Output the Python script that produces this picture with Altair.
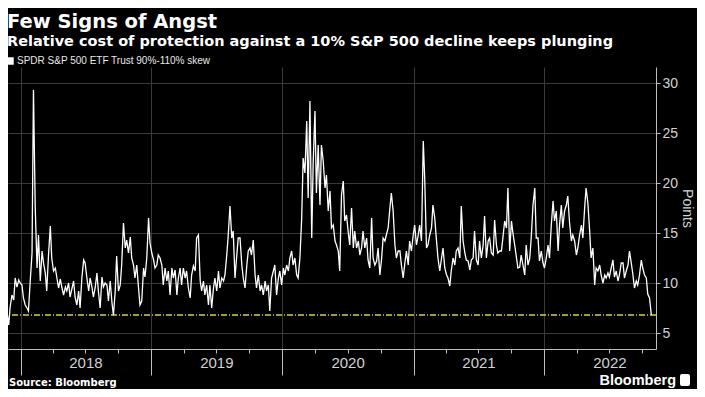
import altair as alt
import pandas as pd

# ---------------- text ----------------
title_text = "Few Signs of Angst"
subtitle_text = "Relative cost of protection against a 10% S&P 500 decline keeps plunging"
series_name = "SPDR S&P 500 ETF Trust 90%-110% skew"
source_text = "Source: Bloomberg"
brand_text = "Bloomberg"
y_title = "Points"

# ---------------- data (~4.6 day spacing) ----------------
first_date = "2017-11-06"
last_date = "2022-10-26"
current_level = 6.8
y_ticks = [5, 10, 15, 20, 25, 30]
tick_years = [2018, 2019, 2020, 2021, 2022]
tick_months = [1, 4, 7, 10]

v_nov17_jun18 = [7.5, 8.5, 9.7, 8.8, 7.2, 5.8, 7.6, 8.8, 8.3, 10.5, 9.6, 10.3,
                 10.0, 9.8, 8.5, 7.8, 7.5, 7.2, 10.2, 13.0, 29.3, 17.5, 11.5, 14.8,
                 10.2, 13.2, 12.0, 11.0, 9.2, 12.8, 15.7, 12.5, 11.2, 11.5, 10.6, 9.5,
                 10.4, 9.6, 8.8, 9.6, 9.2, 10.0, 8.6, 9.4, 10.2, 8.6, 7.8, 9.2]
v_jun18_jan19 = [7.5, 10.5, 12.3, 12.0, 10.5, 9.2, 10.5, 9.6, 8.6, 9.5, 11.0, 9.2,
                 7.5, 10.6, 9.6, 10.0, 9.8, 8.2, 10.2, 8.0, 6.8, 9.2, 12.7, 9.2,
                 9.8, 11.8, 16.0, 13.5, 14.3, 13.0, 14.6, 12.5, 11.8, 10.5, 11.8, 9.5,
                 7.8, 8.2, 11.5, 10.6, 12.5, 16.5, 14.0, 13.0, 12.3, 11.5, 11.8, 12.8]
v_jan19_sep19 = [12.5, 11.8, 9.8, 11.5, 10.2, 11.2, 8.8, 11.5, 10.5, 11.3, 8.8, 10.5,
                 11.5, 9.8, 11.5, 10.5, 11.2, 9.5, 8.5, 10.8, 11.7, 11.2, 14.5, 14.8,
                 10.2, 9.2, 10.2, 8.8, 9.8, 7.8, 9.8, 7.5, 9.5, 10.5, 9.2, 11.2,
                 9.5, 10.5, 10.2, 10.8, 12.8, 14.7, 17.7, 14.5, 15.2, 10.5, 12.8, 14.5]
v_sep19_apr20 = [14.5, 11.8, 10.5, 9.5, 11.8, 13.2, 13.5, 12.8, 14.3, 10.8, 9.5, 10.8,
                 9.2, 9.8, 8.8, 10.2, 9.2, 9.8, 7.2, 10.5, 11.2, 11.8, 8.8, 10.5,
                 11.2, 9.8, 11.5, 10.8, 11.8, 11.2, 12.5, 13.2, 11.8, 12.5, 10.8, 10.5,
                 12.5, 16.5, 22.5, 21.0, 26.2, 18.5, 28.2, 14.5, 22.0, 27.2, 19.0, 23.8]
v_apr20_nov20 = [17.8, 23.8, 22.2, 19.5, 20.8, 17.2, 19.2, 15.5, 15.8, 14.2, 13.8, 13.2,
                 11.2, 18.8, 20.2, 16.2, 16.8, 15.0, 13.8, 17.5, 13.5, 15.2, 13.5, 14.2,
                 12.8, 13.5, 15.2, 13.5, 14.5, 12.3, 11.5, 16.5, 12.5, 11.8, 12.2, 13.5,
                 10.8, 12.5, 14.5, 14.2, 14.8, 15.5, 17.5, 19.0, 17.2, 13.8, 12.5, 13.2]
v_nov20_jul21 = [13.2, 11.8, 10.5, 11.8, 13.2, 11.8, 14.2, 13.2, 14.8, 15.8, 13.8, 14.8,
                 15.8, 14.2, 24.2, 20.5, 13.5, 13.8, 14.8, 15.5, 17.8, 16.5, 14.2, 12.5,
                 11.2, 12.5, 13.5, 11.5, 10.8, 10.5, 9.7, 11.2, 12.5, 11.8, 13.2, 13.5,
                 12.5, 17.7, 14.2, 13.0, 12.3, 12.2, 11.3, 12.3, 12.5, 15.2, 12.3, 11.8]
v_jul21_feb22 = [14.2, 12.5, 13.8, 16.7, 12.5, 14.2, 14.5, 13.0, 12.8, 16.3, 13.8, 13.0,
                 13.2, 13.2, 14.5, 16.2, 15.5, 19.5, 13.2, 16.2, 15.0, 13.8, 12.5, 11.5,
                 11.6, 12.8, 11.8, 10.8, 13.8, 11.8, 12.5, 14.5, 17.8, 19.5, 14.5, 14.5,
                 12.2, 13.2, 12.0, 11.5, 12.5, 13.8, 12.5, 15.8, 18.2, 16.2, 17.2, 13.2]
v_feb22_oct22 = [15.8, 17.8, 15.5, 17.2, 17.8, 18.7, 16.0, 14.2, 14.8, 14.2, 12.8, 13.5,
                 14.8, 15.8, 14.5, 17.5, 19.5, 18.0, 15.2, 12.5, 13.5, 9.8, 11.5, 11.2,
                 11.8, 10.8, 10.0, 10.8, 10.5, 11.0, 10.6, 11.5, 12.3, 10.6, 11.2, 10.2,
                 10.8, 12.0, 12.0, 10.5, 11.2, 11.8, 13.2, 12.0, 11.0, 9.5, 10.2, 9.8,
                 10.8, 12.3, 11.5, 10.8, 10.5, 8.9, 8.5, 6.8]

values = (v_nov17_jun18 + v_jun18_jan19 + v_jan19_sep19 + v_sep19_apr20
          + v_apr20_nov20 + v_nov20_jul21 + v_jul21_feb22 + v_feb22_oct22)
dates = pd.date_range(first_date, last_date, periods=len(values))
df = pd.DataFrame({"date": dates.strftime("%Y-%m-%d"), "value": values,
                   "series": series_name})
level_df = pd.DataFrame({"level": [current_level]})

# ---------------- layout ----------------
W, H = 648, 282
narrow = "'Liberation Sans Narrow', 'Liberation Sans', sans-serif"
head_font = "DejaVu Sans"
grid_c = "#3a3a3a"
axis_c = "#bdbdbd"
label_c = "#d2d2d2"

x_tick_values = [alt.DateTime(year=y, month=m, date=1, utc=True)
                 for y in tick_years for m in tick_months]

x_enc = alt.X(
    "date:T",
    title=None,
    scale=alt.Scale(type="utc",
                    domain=[alt.DateTime(year=2017, month=11, date=27, utc=True),
                            alt.DateTime(year=2022, month=11, date=8, utc=True)]),
    axis=alt.Axis(
        values=x_tick_values,
        labelExpr="utcmonth(datum.value) == 6 ? utcFormat(datum.value, '%Y') : ''",
        tickSize={"condition": {"test": "utcmonth(datum.value) == 0", "value": 26}, "value": 4},
        gridOpacity={"condition": {"test": "utcmonth(datum.value) == 0", "value": 1}, "value": 0},
        grid=True, gridColor=grid_c, gridWidth=1,
        domain=True, domainColor=axis_c, tickColor=axis_c,
        labelColor=label_c, labelFont=narrow, labelFontSize=15,
        labelPadding=2, labelFlush=False, labelOverlap=False,
    ),
)
y_scale = alt.Scale(domain=[3.4, 31.6], nice=False, zero=False)
y_axis = alt.Axis(
    orient="right", values=y_ticks, grid=True, gridColor=grid_c,
    domain=True, domainColor=axis_c, tickColor=axis_c, tickSize=4,
    labelColor=label_c, labelFont=narrow, labelFontSize=14, labelPadding=2,
    titleColor=label_c, titleFont="Liberation Sans", titleFontSize=14,
    titleFontWeight="normal", titleAngle=90, titlePadding=2,
)

rule = alt.Chart(level_df).mark_rule(
    color="#d6d62c", strokeDash=[6, 2, 1, 2], strokeWidth=1.4
).encode(y=alt.Y("level:Q", scale=y_scale, axis=y_axis, title=y_title))

line = alt.Chart(df).mark_line(strokeWidth=1.3, clip=True).encode(
    x=x_enc,
    y=alt.Y("value:Q", scale=y_scale, axis=y_axis, title=y_title),
    color=alt.Color(
        "series:N",
        scale=alt.Scale(domain=[series_name], range=["#ffffff"]),
        legend=alt.Legend(
            title=None, orient="none", legendX=-3, legendY=-11,
            symbolType="square", symbolSize=56, symbolFillColor="#ffffff",
            symbolStrokeColor="#ffffff", symbolStrokeWidth=0,
            labelColor="#e8e8e8", labelFont=narrow, labelFontSize=10,
            labelOffset=2, labelLimit=400,
        ),
    ),
)

source = alt.Chart(pd.DataFrame({"t": [source_text]})).mark_text(
    align="left", baseline="alphabetic", font=head_font, fontSize=10,
    fontWeight="bold", color="#ffffff"
).encode(text="t:N", x=alt.value(1), y=alt.value(H + 37))

brand = alt.Chart(pd.DataFrame({"t": [brand_text]})).mark_text(
    align="right", baseline="alphabetic", font="Liberation Sans", fontSize=14.5,
    fontWeight="bold", color="#ffffff"
).encode(text="t:N", x=alt.value(W + 20), y=alt.value(H + 36))

icon = alt.Chart(pd.DataFrame({"t": [brand_text]})).mark_rect(
    color="#ffffff", cornerRadius=2
).encode(x=alt.value(W + 24), x2=alt.value(W + 34),
         y=alt.value(H + 25), y2=alt.value(H + 37))

chart = alt.layer(rule, line, source, brand, icon).properties(
    width=W, height=H,
    title=alt.TitleParams(
        text=title_text, subtitle=subtitle_text, anchor="start", dx=2,
        font=head_font, fontSize=19.5, fontWeight="bold", color="#ffffff",
        subtitleFont=head_font, subtitleFontSize=14.5, subtitleFontWeight="bold",
        subtitleColor="#ffffff", subtitlePadding=2, offset=7,
    ),
    autosize=alt.AutoSizeParams(type="none"),
    padding={"left": 0, "top": 59, "right": 41, "bottom": 40},
).configure(background="#000000").configure_view(stroke=None)

chart.save("out.html", embed_options={"renderer": "svg", "actions": False})
